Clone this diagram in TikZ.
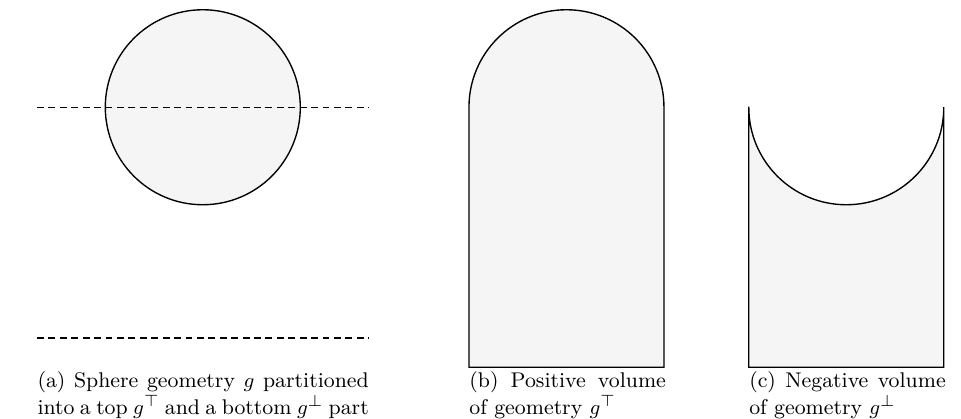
\documentclass[tikz,border=0pt]{standalone}
\usepackage{amsmath,amssymb}
\usepackage{tikz}

\begin{document}
\begin{tikzpicture}[
  vol/.style={draw, fill=black!4, semithick},
  cutline/.style={densely dashed, semithick},
  subcap/.style={inner sep=0pt, align=justify, anchor=north west, font=\fontsize{9.3}{10.4}\selectfont}
]
  \useasboundingbox (0,0) rectangle (14.785,-6.446);

  % (a) sphere with the two planes
  \coordinate (ca) at (3.12,-1.65);
  \draw[vol] (ca) circle (1.5);
  \coordinate (topL) at (0.57,-1.65);
  \coordinate (topR) at (5.68,-1.65);
  \coordinate (botL) at (0.57,-5.2);
  \coordinate (botR) at (5.68,-5.2);
  \draw[cutline] (topL) -- (topR);
  \draw[cutline] (botL) -- (botR);

  % (b) positive volume
  \coordinate (bl) at (7.215,-1.65);
  \draw[vol] (7.215,-5.65) -- (bl) arc (180:0:1.5) -- (10.215,-5.65) -- cycle;

  % (c) negative volume
  \coordinate (cr) at (14.52,-1.65);
  \draw[vol] (11.52,-1.65) -- (11.52,-5.65) -- (14.52,-5.65) -- (cr) arc (0:-180:1.5) -- cycle;

  \node[subcap, text width=145pt] (capA) at (0.57,-5.71)
    {(a) Sphere geometry $g$ partitioned into a top $g^{\top}$ and a bottom $g^{\perp}$ part};
  \node[subcap, text width=86pt] (capB) at (7.215,-5.71)
    {(b) Positive volume of geometry $g^{\top}$};
  \node[subcap, text width=86pt] (capC) at (11.52,-5.71)
    {(c) Negative volume of geometry $g^{\perp}$};
\end{tikzpicture}
\end{document}
